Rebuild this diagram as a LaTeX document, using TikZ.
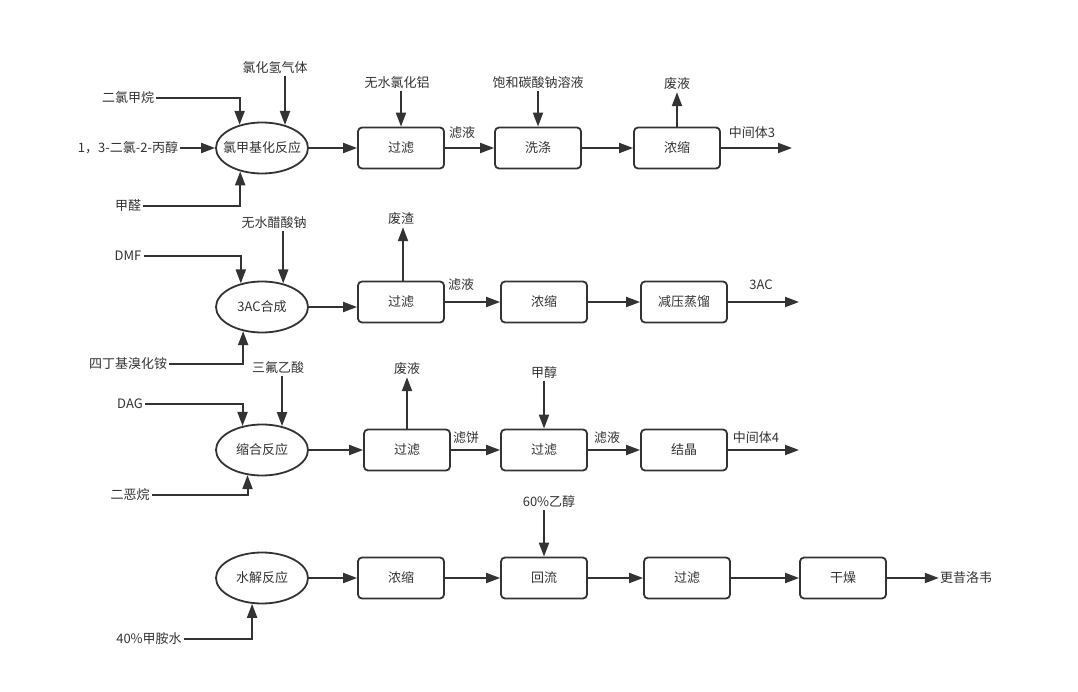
\documentclass[tikz,border=0pt]{standalone}
\usepackage{fontspec}
\setmainfont{Noto Sans CJK SC}
\usetikzlibrary{arrows.meta,shapes.geometric}
\definecolor{ink}{HTML}{333333}
\begin{document}
\begin{tikzpicture}[x=1pt,y=-1pt,
  every node/.style={font=\fontsize{13}{15}\selectfont, text=ink},
  proc/.style={draw=ink, line width=1.8pt, rounded corners=4pt, minimum width=86pt, minimum height=41pt, inner sep=0pt},
  react/.style={ellipse, draw=ink, line width=1.8pt, minimum width=92pt, minimum height=51pt, inner sep=0pt, label={[inner sep=0pt]center:#1}},
  flow/.style={draw=ink, line width=2pt, -{Triangle[length=14pt,width=10pt]}},
  lbl/.style={inner sep=2pt}]
\useasboundingbox (0,0) rectangle (1078,692);

% ---------- Row 1 ----------
\node[react={氯甲基化反应}] (r1) at (262,148) {};
\node[proc] (f1) at (401,148) {过滤};
\node[proc] (w1) at (538,148) {洗涤};
\node[proc] (c1) at (677,148) {浓缩};
\node[lbl] (l1a) at (128,98) {二氯甲烷};
\node[lbl] (l1b) at (128,148) {1，3-二氯-2-丙醇};
\node[lbl] (l1c) at (128,206) {甲醛};
\node[lbl] (l1d) at (275,68) {氯化氢气体};
\node[lbl] (l1e) at (397,83) {无水氯化铝};
\node[lbl] (l1f) at (538,83) {饱和碳酸钠溶液};
\node[lbl] (l1g) at (677,84) {废液};
\node[lbl] (l1h) at (462,133) {滤液};
\node[lbl] (l1i) at (752,133) {中间体3};
\coordinate (o1) at (792,148);
\draw[flow] (l1a.east) -| (r1.134.5);
\draw[flow] (l1b.east) -- (r1.west);
\draw[flow] (l1c.east) -| (r1.227.2);
\draw[flow] (l1d.south -| r1.45.5) -- (r1.45.5);
\draw[flow] (r1.east) -- (f1.west);
\draw[flow] (l1e.south -| f1.north) -- (f1.north);
\draw[flow] (f1.east) -- (w1.west);
\draw[flow] (l1f.south) -- (w1.north);
\draw[flow] (w1.east) -- (c1.west);
\draw[flow] (c1.north) -- (l1g.south);
\draw[flow] (c1.east) -- (o1);

% ---------- Row 2 ----------
\node[react={3AC合成}] (r2) at (262,307) {};
\node[proc] (f2) at (401,302) {过滤};
\node[proc] (c2) at (544,302) {浓缩};
\node[proc] (d2) at (684,302) {减压蒸馏};
\node[lbl] (l2a) at (128,256) {DMF};
\node[lbl] (l2b) at (274,223) {无水醋酸钠};
\node[lbl] (l2c) at (128,364) {四丁基溴化铵};
\node[lbl] (l2d) at (401,219) {废渣};
\node[lbl] (l2e) at (461,285) {滤液};
\node[lbl] (l2f) at (761,285) {3AC};
\coordinate (o2) at (799,302);
\draw[flow] (l2a.east) -| (r2.132.8);
\draw[flow] (l2b.south -| r2.48.9) -- (r2.48.9);
\draw[flow] (l2c.east) -| (r2.232.5);
\draw[flow] (r2.east) -- (r2.east -| f2.west);
\draw[flow] ([xshift=2pt]f2.north) -- ([xshift=2pt]f2.north |- l2d.south);
\draw[flow] (f2.east) -- (c2.west);
\draw[flow] (c2.east) -- (d2.west);
\draw[flow] (d2.east) -- (o2);

% ---------- Row 3 ----------
\node[react={缩合反应}] (r3) at (262,450) {};
\node[proc] (f3) at (407,450) {过滤};
\node[proc] (g3) at (544,450) {过滤};
\node[proc] (k3) at (684,450) {结晶};
\node[lbl] (l3a) at (130,404) {DAG};
\node[lbl] (l3b) at (278,368) {三氟乙酸};
\node[lbl] (l3c) at (130,495) {二恶烷};
\node[lbl] (l3d) at (407,369) {废液};
\node[lbl] (l3e) at (466,438) {滤饼};
\node[lbl] (l3f) at (544,373) {甲醇};
\node[lbl] (l3g) at (607,438) {滤液};
\node[lbl] (l3h) at (756,438) {中间体4};
\coordinate (o3) at (799,450);
\draw[flow] (l3a.east) -| (r3.129.3);
\draw[flow] (l3b.south -| r3.50.7) -- (r3.50.7);
\draw[flow] (l3c.east) -| (r3.240);
\draw[flow] (r3.east) -- (f3.west);
\draw[flow] (f3.north) -- (l3d.south);
\draw[flow] (f3.east) -- (g3.west);
\draw[flow] (l3f.south) -- (g3.north);
\draw[flow] (g3.east) -- (k3.west);
\draw[flow] (k3.east) -- (o3);

% ---------- Row 4 ----------
\node[react={水解反应}] (r4) at (262,578) {};
\node[proc] (c4) at (401,578) {浓缩};
\node[proc] (h4) at (544,578) {回流};
\node[proc] (f4) at (687,578) {过滤};
\node[proc] (d4) at (843,578) {干燥};
\node[lbl] (l4a) at (149,639) {40\%甲胺水};
\node[lbl] (l4b) at (549,502) {60\%乙醇};
\node[inner sep=1pt] (p4) at (966,578) {更昔洛韦};
\draw[flow] (l4a.east) -| (r4.249.8);
\draw[flow] (r4.east) -- (c4.west);
\draw[flow] (c4.east) -- (h4.west);
\draw[flow] (l4b.south -| h4.north) -- (h4.north);
\draw[flow] (h4.east) -- (f4.west);
\draw[flow] (f4.east) -- (d4.west);
\draw[flow] (d4.east) -- (p4.west);
\end{tikzpicture}
\end{document}
